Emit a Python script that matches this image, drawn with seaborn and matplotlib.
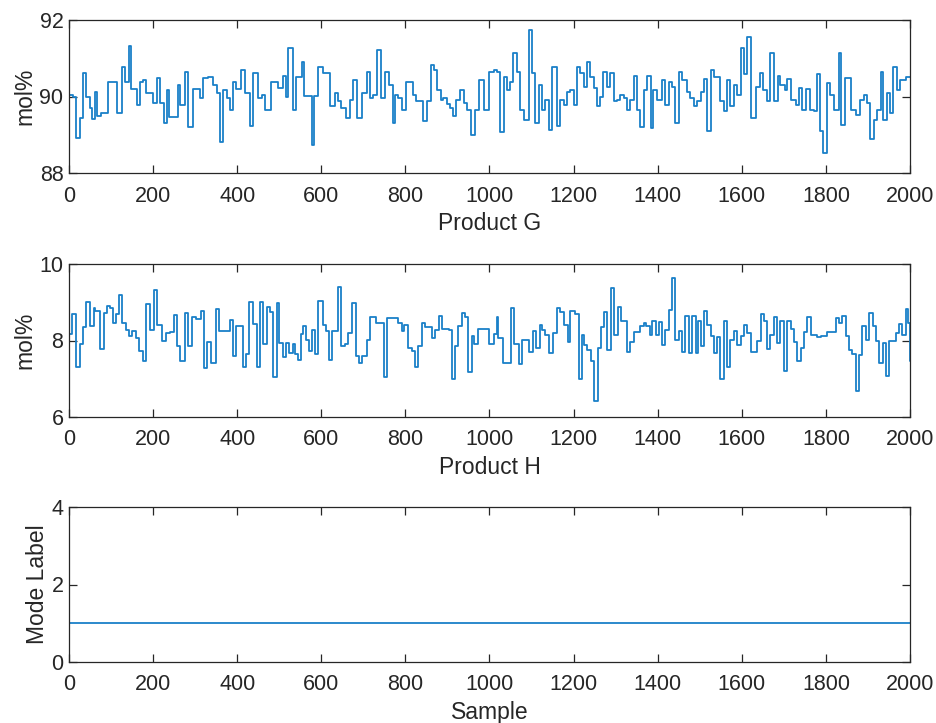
import numpy as np
import pandas as pd
import matplotlib
matplotlib.use("Agg")
import matplotlib.pyplot as plt
import seaborn as sns

# ---------------- data (step change points and held levels) ----------------
g_samples = [0, 10, 17, 25, 33, 41, 49, 55, 61, 67, 75, 93, 113, 125, 133, 142, 148, 162, 168, 175,
             184, 200, 210, 216, 226, 232, 238, 260, 263, 275, 283, 295, 311, 319, 331, 343, 351, 359,
             367, 375, 384, 390, 398, 410, 418, 430, 438, 450, 458, 466,
             480, 498, 508, 516, 521, 533, 541, 553, 560, 577, 583, 593, 603, 621, 633, 640, 648, 659,
             668, 675, 684, 696, 708, 716, 724, 732, 741, 752, 760, 770, 775, 783, 791, 802, 819, 825,
             843, 851, 861, 868, 874, 884, 890, 898, 906, 913, 921, 930, 940, 946, 956, 966, 974, 986,
             1000, 1010, 1017, 1025, 1035, 1041, 1049, 1057, 1065, 1073, 1081, 1093, 1101, 1109, 1117,
             1125, 1133, 1141, 1148, 1160, 1168, 1176, 1184, 1192, 1200, 1208, 1216, 1224, 1232, 1240,
             1248, 1256, 1263, 1271, 1279, 1287, 1295, 1303, 1311, 1319, 1327, 1335, 1343, 1351, 1359,
             1367, 1375, 1383, 1389, 1399, 1410, 1418, 1426, 1434, 1442, 1450, 1458, 1470, 1478, 1486,
             1494, 1502, 1510, 1518, 1527, 1535, 1549, 1557, 1565, 1573, 1581, 1589, 1597, 1605, 1613,
             1621, 1633, 1643, 1651, 1660, 1668, 1676, 1686, 1692, 1702, 1708, 1716, 1728, 1736, 1744,
             1752, 1762, 1772, 1778, 1786, 1794, 1802, 1810, 1819, 1830, 1837, 1845, 1859, 1871, 1882,
             1890, 1898, 1906, 1914, 1922, 1930, 1936, 1946, 1952, 1960, 1968, 1976, 1990, 2000]
g_values = [90.04, 89.98, 88.91, 89.43, 90.61, 90.00, 89.70, 89.41, 90.13, 89.48, 89.58, 90.37, 89.57,
            90.77, 90.39, 91.32, 90.19, 89.78, 90.39, 90.43, 90.09, 89.83, 90.48, 89.83, 89.30, 90.17,
            89.46, 90.30, 89.78, 90.63, 89.20, 90.19, 89.96, 90.48, 90.52, 90.30, 90.09, 88.80, 90.17,
            89.96, 89.65, 90.39, 90.20, 90.70, 90.09, 89.22, 90.61, 89.96, 90.04, 89.65,
            90.37, 90.22, 90.54, 89.98, 91.26, 89.65, 90.52, 90.91, 90.02, 88.74, 90.02, 90.78, 90.61,
            89.74, 90.09, 89.87, 89.70, 89.43, 89.91, 90.43, 89.43, 90.09, 90.65, 89.96, 90.04, 91.22,
            89.96, 90.65, 90.30, 89.30, 90.04, 89.96, 89.65, 90.39, 90.04, 89.87, 89.35, 89.87, 90.83,
            90.70, 90.17, 89.91, 89.96, 89.81, 89.70, 89.48, 89.91, 90.17, 89.83, 89.65, 89.00, 89.65,
            90.42, 89.65,
            90.65, 90.70, 90.65, 89.06, 90.52, 90.17, 90.39, 91.13, 90.65, 89.65, 89.39, 91.74, 90.61,
            89.32, 90.30, 89.65, 89.91, 89.13, 90.78, 89.22, 89.91, 89.78, 90.13, 90.17, 89.78, 90.78,
            90.61, 90.26, 90.91, 90.52, 90.22, 89.74, 90.00, 90.63, 90.26, 90.61, 89.87, 89.91, 90.04,
            89.96, 89.65, 89.91, 90.54, 89.65, 89.20, 90.17, 90.54, 89.17, 90.17, 89.91, 90.43, 89.78,
            90.39, 90.26, 89.30, 90.63, 90.43, 90.13, 89.96, 89.74,
            89.87, 90.13, 90.45, 89.09, 90.70, 90.52, 89.87, 89.61, 90.43, 89.74, 90.30, 90.04, 91.26,
            90.59, 91.55, 89.43, 90.26, 90.61, 90.17, 89.87, 91.13, 89.87, 90.54, 90.30, 90.17, 90.45,
            89.91, 89.78, 90.23, 89.65, 90.19, 89.65, 89.61, 90.59, 89.09, 88.52, 90.35, 90.04, 89.65,
            91.15, 89.26, 90.48, 89.65, 89.52, 89.91, 90.04, 89.83, 88.89, 89.39, 89.65, 90.65, 89.39,
            90.09, 89.57, 90.78, 90.17, 90.43, 90.52, 90.52]

h_samples = [0, 8, 16, 25, 33, 41, 51, 59, 63, 73, 83, 90, 98, 105, 111, 119, 125, 135, 143, 151, 159,
             167, 175, 183, 192, 202, 210, 220, 230, 240, 250, 257, 263, 275, 283, 293, 301, 313, 321,
             329, 337, 349, 357, 384, 390, 398, 414, 422, 429, 437, 446, 454, 462, 470, 478, 486, 494,
             500, 508, 516, 524, 532, 537, 545, 551, 557, 563, 571, 579, 585, 593, 605, 611, 619, 625,
             640, 648, 656, 664, 672, 682, 690, 696, 709, 716, 730, 748, 757, 783, 791, 797, 807, 815,
             823, 831, 839, 847, 863, 871, 879, 887, 903, 910, 918, 926, 934, 942, 950, 958, 964, 972,
             1000, 1010, 1017, 1021, 1033, 1051, 1059, 1069, 1077, 1095, 1103, 1111, 1119, 1125, 1133,
             1141, 1151, 1160, 1168, 1176, 1186, 1192, 1204, 1212, 1220, 1225, 1233, 1241, 1249, 1257,
             1265, 1273, 1279, 1289, 1297, 1305, 1313, 1327, 1335, 1343, 1359, 1367, 1373, 1381, 1387,
             1395, 1403, 1410, 1418, 1426, 1434, 1442, 1450, 1458, 1466, 1474, 1482, 1490, 1496, 1502,
             1510, 1518, 1526, 1534, 1542, 1549, 1557, 1565, 1573, 1581, 1589, 1597, 1605, 1613, 1621,
             1637, 1645, 1653, 1660, 1668, 1676, 1684, 1692, 1700, 1708, 1716, 1724, 1732, 1740, 1748,
             1756, 1764, 1780, 1788, 1803, 1823, 1831, 1839, 1847, 1855, 1863, 1871, 1879, 1887, 1895,
             1903, 1911, 1919, 1927, 1935, 1943, 1951, 1966, 1974, 1982, 1990, 1995, 1999, 2000]
h_values = [8.18, 8.68, 7.32, 7.91, 8.34, 9.00, 8.39, 8.85, 8.78, 7.78, 8.72, 8.91, 8.85, 8.46, 8.69,
            9.20, 8.46, 8.28, 8.11, 8.26, 8.07, 7.72, 7.46, 8.95, 8.28, 9.33, 8.40, 8.00, 8.20, 8.22,
            8.66, 7.85, 7.47, 8.72, 7.85, 8.61, 8.57, 8.78, 7.28, 7.96, 7.41, 8.83, 8.26, 8.54, 7.59,
            8.37, 7.32, 7.65, 9.00, 8.43, 7.30, 9.01, 7.91, 8.87, 8.75, 7.04, 8.98,
            7.93, 7.56, 7.93, 7.67, 7.91, 7.65, 7.50, 8.17, 8.37, 8.02, 7.72, 8.28, 7.65, 9.02, 8.41,
            8.26, 7.50, 8.26, 9.39, 7.85, 7.91, 8.20, 8.98, 7.59, 7.41, 7.59, 8.02, 8.61, 8.46, 7.04,
            8.59, 8.46, 8.24, 8.41, 7.80, 7.72, 7.30, 7.85, 8.46, 8.34, 8.07, 8.28, 8.65, 8.31, 8.28,
            7.00, 7.85, 8.39, 8.72, 8.61, 7.18, 8.11, 7.91, 8.31,
            7.91, 8.17, 8.61, 8.07, 7.41, 8.85, 7.91, 7.39, 8.02, 7.70, 8.26, 7.80, 8.40, 8.28, 8.15,
            7.67, 8.20, 8.85, 8.75, 8.41, 7.96, 8.78, 8.69, 7.00, 8.14, 7.87, 7.76, 7.47, 6.43, 7.80,
            8.34, 8.75, 7.76, 9.37, 8.15, 8.88, 8.50, 7.70, 7.96, 8.22, 8.37, 8.47, 8.37, 8.14, 8.50,
            8.15, 8.48, 7.87, 8.28, 8.81, 9.63, 8.02, 8.24, 7.70, 8.63, 7.67, 8.63, 7.67, 8.50, 7.85,
            8.76, 8.41, 8.11, 7.67, 8.08, 7.00, 8.52, 7.32, 8.02, 8.24, 7.89, 8.11, 8.41, 8.20, 7.70,
            8.00, 8.68, 8.50, 7.79, 8.15, 8.61, 7.93, 8.50, 7.21, 8.50, 8.31, 7.96, 7.46, 7.80, 8.22,
            8.61, 8.14, 8.08, 8.11, 8.22, 8.59, 8.46, 8.63, 8.11, 7.76, 7.66, 6.67, 7.63, 8.37, 8.02,
            8.72, 8.37, 7.98, 7.41, 7.93, 7.06, 7.98, 8.20, 8.43, 8.14, 8.83, 8.47, 7.46, 7.46]

mode_samples = [0, 2000]
mode_values = [1, 1]

panels = [
    dict(x=g_samples, y=g_values, xlabel="Product G", ylabel="mol%", ylim=(88, 92), yticks=[88, 90, 92]),
    dict(x=h_samples, y=h_values, xlabel="Product H", ylabel="mol%", ylim=(6, 10), yticks=[6, 8, 10]),
    dict(x=mode_samples, y=mode_values, xlabel="Sample", ylabel="Mode Label", ylim=(0, 4), yticks=[0, 2, 4]),
]
xticks = list(range(0, 2001, 200))

# ---------------- style ----------------
sns.set_theme(style="white")
plt.rcParams["font.family"] = ["Liberation Sans", "DejaVu Sans"]

W, H = 937, 723
fig = plt.figure(figsize=(W / 100, H / 100), dpi=100)
# axes boxes in pixels: (left, top, right, bottom)
boxes = [(69, 20, 910, 173), (69, 264, 910, 417), (69, 507, 910, 662)]

line_color = "#1A80C8"
axis_color = "#262626"

for box, p in zip(boxes, panels):
    l, t, r, b = box
    ax = fig.add_axes([l / W, 1 - b / H, (r - l) / W, (b - t) / H])
    df = pd.DataFrame({"sample": p["x"], "value": p["y"]})
    sns.lineplot(data=df, x="sample", y="value", ax=ax, color=line_color,
                 linewidth=1.3, drawstyle="steps-post", estimator=None, sort=True)
    ax.set_xlim(0, 2000)
    ax.set_ylim(*p["ylim"])
    ax.set_xticks(xticks)
    ax.set_yticks(p["yticks"])
    ax.set_xlabel(p["xlabel"], fontsize=16.5, color=axis_color, labelpad=4)
    ax.set_ylabel(p["ylabel"], fontsize=16.5, color=axis_color, labelpad=2)
    ax.tick_params(axis="both", direction="in", length=6, width=0.9, colors=axis_color,
                   labelsize=15.5, top=True, right=True, bottom=True, left=True)
    ax.tick_params(axis="x", pad=9)
    ax.tick_params(axis="y", pad=4)
    for s in ax.spines.values():
        s.set_visible(True)
        s.set_color(axis_color)
        s.set_linewidth(0.9)
    ax.set_facecolor("white")

fig.savefig("out.png", dpi=100, facecolor="white")
